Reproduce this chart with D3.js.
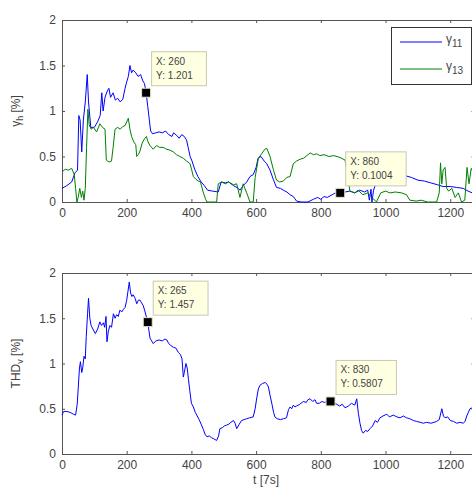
<!DOCTYPE html>
<html lang="en">
<head>
  <meta charset="UTF-8">
  <script src="https://d3js.org/d3.v7.min.js"></script>
  <title>Harmonics and THD</title>
  <style>
    body {
      margin: 0;
      background: white;
      font-family: "Liberation Sans", Arial, sans-serif;
      overflow: hidden;
    }
    .tick text { fill: #444; font-size: 12px; }
    .domain, .tick line { stroke: #555; }
    .tip-box { fill: #ffffe1; stroke: #c8c8b4; }
    .tip-text { font-size: 10px; fill: #444; }
  </style>
</head>
<body>
<script>
  // values
  const xTicks = [0, 200, 400, 600, 800, 1000, 1200];
  const yTicks = [0, 0.5, 1, 1.5, 2];

  const v11T = [0, 15, 30, 40, 48, 52, 56, 61, 66, 72, 78, 82, 89, 100, 110, 118, 123, 127, 133, 140, 145, 150, 158, 165, 172, 180, 188, 195, 200, 205, 210, 215, 220, 228, 235, 243, 250, 255, 260, 265, 270, 274, 280, 290, 300, 310, 320, 330, 340, 345, 355, 362, 370, 378, 385, 390, 396, 402, 410, 420, 430, 440, 450, 465, 483, 492, 505, 515, 530, 545, 550, 560, 571, 581, 591, 600, 606, 615, 625, 633, 643, 653, 663, 675, 684, 695, 705, 715, 725, 740, 760, 777, 790, 800, 810, 820, 835, 845, 860, 875, 890, 905, 920, 935, 945, 950, 955, 958, 963, 970, 980, 1000, 1020, 1040, 1060, 1080, 1100, 1120, 1140, 1160, 1178, 1200, 1220, 1240, 1255, 1275];
  const v11V = [0.15, 0.18, 0.22, 0.32, 0.35, 0.95, 0.9, 0.55, 0.9, 1.1, 1.4, 1.1, 0.82, 0.82, 0.88, 0.95, 1.2, 1.0, 1.15, 1.22, 1.25, 1.15, 1.2, 1.12, 1.14, 1.1, 1.13, 1.25, 1.32, 1.38, 1.5, 1.42, 1.45, 1.42, 1.38, 1.4, 1.33, 1.3, 1.201, 1.05, 0.9, 0.78, 0.75, 0.76, 0.77, 0.76, 0.78, 0.74, 0.72, 0.76, 0.73, 0.70, 0.74, 0.72, 0.68, 0.6, 0.5, 0.45, 0.36, 0.28, 0.22, 0.18, 0.13, 0.12, 0.11, 0.22, 0.21, 0.22, 0.18, 0.15, 0.13, 0.18, 0.22, 0.28, 0.3, 0.38, 0.48, 0.5, 0.45, 0.42, 0.35, 0.25, 0.16, 0.15, 0.13, 0.11, 0.08, 0.06, 0.01, 0, 0, 0.03, 0.05, 0.03, 0.06, 0.05, 0.08, 0.1, 0.1004, 0.11, 0.12, 0.1, 0.13, 0.11, 0.13, 0.02, 0.14, 0, 0.13, 0.2, 0.3, 0.32, 0.3, 0.31, 0.29, 0.27, 0.24, 0.23, 0.21, 0.19, 0.17, 0.17, 0.16, 0.15, 0.12, 0.09];

  const v13T = [0, 10, 20, 30, 38, 42, 46, 50, 55, 60, 64, 68, 72, 76, 80, 84, 90, 97, 107, 117, 125, 133, 137, 145, 153, 158, 164, 172, 180, 188, 195, 205, 210, 215, 222, 228, 231, 236, 241, 248, 256, 261, 266, 272, 282, 292, 302, 313, 323, 334, 344, 354, 364, 375, 385, 396, 401, 406, 414, 421, 428, 437, 444, 448, 478, 483, 493, 505, 515, 530, 540, 550, 560, 565, 571, 581, 591, 597, 607, 617, 627, 633, 643, 653, 663, 673, 684, 695, 705, 715, 725, 736, 746, 757, 767, 777, 787, 797, 810, 825, 840, 859, 875, 882, 890, 905, 915, 930, 945, 958, 972, 985, 1000, 1014, 1030, 1050, 1065, 1075, 1095, 1110, 1130, 1158, 1166, 1170, 1174, 1178, 1184, 1189, 1195, 1205, 1215, 1225, 1235, 1245, 1252, 1258, 1265, 1275];
  const v13V = [0.33, 0.36, 0.35, 0.37, 0.3, 0.15, 0, 0.05, 0.15, 0.05, 0.12, 0.02, 0.15, 0.6, 1.02, 0.85, 0.8, 0.82, 0.77, 0.86, 0.82, 0.8, 0.46, 0.44, 0.45, 0.6, 0.8, 0.82, 0.8, 0.83, 0.84, 0.92, 0.8, 0.72, 0.66, 0.63, 0.5, 0.52, 0.56, 0.65, 0.7, 0.72, 0.66, 0.62, 0.58, 0.62, 0.6, 0.6, 0.58, 0.57, 0.55, 0.52, 0.5, 0.48, 0.45, 0.42, 0.35, 0.28, 0.25, 0.23, 0.22, 0.1, 0.03, 0, 0, 0.2, 0.22, 0.2, 0.22, 0.19, 0.2, 0.05, 0.2, 0.15, 0.1, 0, 0, 0.27, 0.48, 0.53, 0.58, 0.59, 0.5, 0.36, 0.24, 0.22, 0.23, 0.27, 0.28, 0.42, 0.45, 0.47, 0.48, 0.51, 0.54, 0.52, 0.53, 0.51, 0.52, 0.5, 0.51, 0.49, 0.46, 0.3, 0.12, 0.1, 0.13, 0.08, 0.1, 0.05, 0, 0.1, 0.12, 0.1, 0.11, 0.1, 0.08, 0.02, 0.01, 0.02, 0, 0, 0.1, 0.43, 0.2, 0.35, 0.38, 0.15, 0.12, 0.15, 0.05, 0.1, 0, 0.02, 0.38, 0.2, 0.37, 0.3];

  const thdT = [0, 5, 15, 25, 35, 42, 47, 50, 54, 57, 61, 64, 68, 72, 75, 79, 82, 86, 90, 97, 103, 110, 117, 122, 128, 132, 136, 139, 143, 148, 153, 159, 164, 169, 174, 179, 185, 190, 195, 200, 204, 208, 212, 216, 220, 226, 231, 236, 241, 246, 251, 256, 262, 265, 268, 272, 277, 282, 290, 300, 310, 318, 324, 330, 336, 344, 352, 360, 366, 371, 375, 378, 383, 387, 391, 395, 400, 406, 412, 418, 424, 430, 437, 442, 448, 455, 462, 468, 473, 478, 484, 488, 495, 502, 509, 516, 522, 530, 535, 540, 548, 555, 563, 571, 580, 591, 597, 602, 607, 612, 620, 628, 634, 638, 643, 649, 654, 658, 665, 675, 685, 694, 700, 705, 710, 715, 720, 725, 735, 746, 755, 760, 767, 775, 782, 787, 795, 803, 812, 820, 830, 840, 849, 858, 866, 875, 885, 895, 905, 911, 916, 921, 926, 931, 938, 945, 952, 960, 968, 975, 983, 992, 1004, 1012, 1024, 1035, 1045, 1055, 1065, 1075, 1086, 1096, 1107, 1117, 1127, 1140, 1150, 1158, 1166, 1174, 1179, 1184, 1192, 1200, 1210, 1220, 1230, 1240, 1246, 1251, 1261, 1275];
  const thdV = [0.43, 0.47, 0.47, 0.46, 0.44, 0.43, 0.55, 0.72, 0.95, 1.02, 0.9, 0.95, 1.08, 1.05, 1.3, 1.55, 1.72, 1.5, 1.42, 1.37, 1.33, 1.38, 1.46, 1.42, 1.45, 1.4, 1.52, 1.24, 1.35, 1.42, 1.4, 1.55, 1.5, 1.54, 1.52, 1.59, 1.57, 1.6, 1.62, 1.7, 1.8, 1.9, 1.78, 1.74, 1.76, 1.72, 1.66, 1.7, 1.7, 1.67, 1.64, 1.58, 1.5, 1.457, 1.38, 1.28, 1.25, 1.22, 1.25, 1.26, 1.25, 1.27, 1.26, 1.22, 1.2, 1.18, 1.17, 1.12, 1.1, 1.05, 0.85, 0.9, 1.0, 0.95, 0.82, 0.7, 0.56, 0.52, 0.46, 0.42, 0.38, 0.33, 0.27, 0.22, 0.19, 0.2, 0.18, 0.17, 0.16, 0.15, 0.2, 0.28, 0.29, 0.31, 0.32, 0.33, 0.35, 0.37, 0.34, 0.28, 0.33, 0.37, 0.38, 0.39, 0.4, 0.41, 0.5, 0.62, 0.72, 0.76, 0.78, 0.79, 0.77, 0.74, 0.65, 0.55, 0.46, 0.41, 0.39, 0.38, 0.39, 0.4, 0.49, 0.52, 0.5, 0.54, 0.52, 0.53, 0.55, 0.58, 0.57, 0.6, 0.61, 0.58, 0.6, 0.56, 0.56, 0.58, 0.57, 0.58, 0.5807, 0.56, 0.55, 0.53, 0.55, 0.51, 0.53, 0.56, 0.54, 0.61, 0.45, 0.34, 0.26, 0.23, 0.26, 0.25, 0.28, 0.31, 0.37, 0.35, 0.4, 0.42, 0.44, 0.41, 0.43, 0.41, 0.4, 0.42, 0.4, 0.39, 0.37, 0.36, 0.35, 0.34, 0.35, 0.34, 0.35, 0.36, 0.38, 0.5, 0.42, 0.4, 0.41, 0.37, 0.36, 0.34, 0.35, 0.34, 0.36, 0.42, 0.5, 0.52];

  // data tips [x, y]
  const topTips = [[260, 1.201], [860, 0.1004]];
  const bottomTips = [[265, 1.457], [830, 0.5807]];

  const width = 472, height = 491;
  const svg = d3.select("body").append("svg")
    .attr("width", width)
    .attr("height", height);

  const x = d3.scaleLinear().domain([0, 1275]).range([62, 474.5]);

  function panel(top, bottom, series, tips, yLabel, yLabelSub, showXLabel) {
    const y = d3.scaleLinear().domain([0, 2]).range([bottom, top]);
    const g = svg.append("g");

    // axes with inward ticks, box on all sides
    g.append("g").attr("transform", `translate(0,${bottom})`)
      .call(d3.axisBottom(x).tickValues(xTicks).tickSize(-3).tickPadding(6).tickSizeOuter(0)
        .tickFormat(d3.format("d")));
    g.append("g").attr("transform", `translate(0,${top})`)
      .call(d3.axisTop(x).tickValues(xTicks).tickSize(-3).tickFormat("").tickSizeOuter(0));
    g.append("g").attr("transform", `translate(${x.range()[0]},0)`)
      .call(d3.axisLeft(y).tickValues(yTicks).tickSize(-3).tickPadding(6).tickSizeOuter(0)
        .tickFormat(d3.format("")));
    g.append("g").attr("transform", `translate(${x.range()[1]},0)`)
      .call(d3.axisRight(y).tickValues(yTicks).tickSize(-3).tickFormat("").tickSizeOuter(0));

    const line = d3.line().x(d => x(d[0])).y(d => y(d[1]));
    series.forEach(s => {
      const pts = s.t.map((t, i) => [t, s.v[i]]);
      g.append("path")
        .datum(pts)
        .attr("fill", "none")
        .attr("stroke", s.color)
        .attr("stroke-width", 1)
        .attr("d", line);
    });

    // y label
    const yl = g.append("text")
      .attr("transform", `translate(20,${(top + bottom) / 2}) rotate(-90)`)
      .attr("text-anchor", "middle")
      .attr("font-size", 12)
      .attr("fill", "#444");
    yl.append("tspan").text(yLabel);
    yl.append("tspan").attr("font-size", 9).attr("dy", 3).text(yLabelSub);
    yl.append("tspan").attr("dy", -3).text(" [%]");

    if (showXLabel) {
      g.append("text")
        .attr("x", 266).attr("y", bottom + 30)
        .attr("text-anchor", "middle")
        .attr("font-size", 12)
        .attr("fill", "#444")
        .text("t [7s]");
    }

    // data tips
    tips.forEach(([tx, ty]) => {
      const mx = x(tx), my = y(ty);
      const lines = [`X: ${tx}`, `Y: ${ty}`];
      const tg = g.append("g");
      const w = Math.max(...lines.map(l => l.length)) * 5.6 + 10;
      const h = 34;
      tg.append("rect").attr("class", "tip-box")
        .attr("x", mx + 5.5).attr("y", my - 7 - h)
        .attr("width", w).attr("height", h);
      lines.forEach((l, i) => {
        tg.append("text").attr("class", "tip-text")
          .attr("x", mx + 10).attr("y", my - 7 - h + 13 + i * 14)
          .text(l);
      });
      tg.append("rect")
        .attr("x", mx - 4.5).attr("y", my - 4.5)
        .attr("width", 9).attr("height", 9)
        .attr("fill", "#000")
        .attr("stroke", "#e8e8c8")
        .attr("stroke-width", 1);
    });
    return g;
  }

  const topG = panel(20, 202, [
    { t: v11T, v: v11V, color: "#0000ff" },
    { t: v13T, v: v13V, color: "#008000" }
  ], topTips, "γ", "h", false);

  panel(273, 454, [
    { t: thdT, v: thdV, color: "#0000ff" }
  ], bottomTips, "THD", "v", true);

  // legend
  const legendItems = [["γ", "11", "#0000ff"], ["γ", "13", "#008000"]];
  const lg = topG.append("g");
  lg.append("rect")
    .attr("x", 391.5).attr("y", 27.5)
    .attr("width", 80).attr("height", 57)
    .attr("fill", "white")
    .attr("stroke", "#333");
  legendItems.forEach(([base, sub, color], i) => {
    const ly = 42 + i * 27;
    lg.append("line")
      .attr("x1", 400).attr("x2", 442)
      .attr("y1", ly).attr("y2", ly)
      .attr("stroke", color);
    const t = lg.append("text")
      .attr("x", 446).attr("y", ly + 1)
      .attr("font-size", 12)
      .attr("fill", "#444");
    t.append("tspan").text(base);
    t.append("tspan").attr("font-size", 10).attr("dy", 4).text(sub);
  });
</script>
</body>
</html>
